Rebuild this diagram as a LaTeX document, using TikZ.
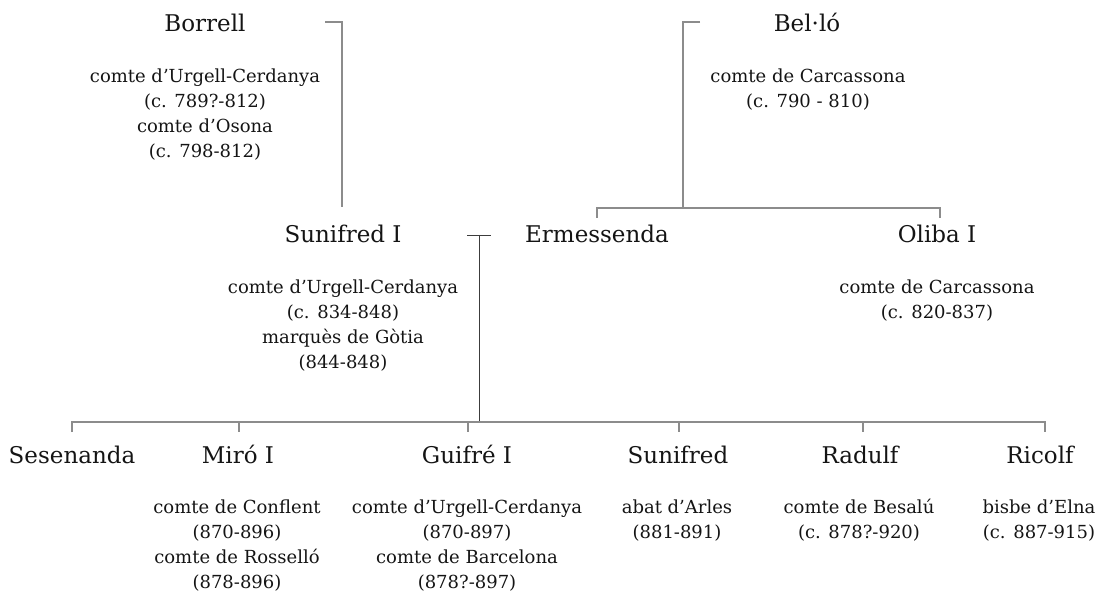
\documentclass[tikz,border=0pt]{standalone}
\usepackage{fontspec}
\setmainfont{DejaVu Serif}
\definecolor{txt}{RGB}{20,20,20}
\definecolor{ln}{RGB}{140,140,140}
\definecolor{lndark}{RGB}{60,60,60}
\begin{document}
\begin{tikzpicture}[x=1pt,y=-1pt,
  person/.style={inner sep=0pt, anchor=base, text=txt, font=\fontsize{23}{28}\selectfont},
  detail/.style={inner sep=0pt, anchor=north, align=center, text=txt, font=\fontsize{18}{25}\selectfont},
  link/.style={draw=ln, line width=1.1pt},
  linkdark/.style={draw=lndark, line width=0.9pt}]
\useasboundingbox (0,0) rectangle (1098,596);
% generation 1
\node[person] (borrell) at (205,32) {Borrell};
\node[detail] (borrellD) at (205,64.5) {\strut comte d’Urgell-Cerdanya\\\strut (c. 789?-812)\\\strut comte d’Osona\\\strut (c. 798-812)};
\node[person] (bello) at (807,32) {Bel·ló};
\node[detail] (belloD) at (808,64.5) {\strut comte de Carcassona\\\strut (c. 790 - 810)};
% generation 2
\node[person] (sunifredI) at (343,243) {Sunifred I};
\node[detail] (sunifredID) at (343,275.5) {\strut comte d’Urgell-Cerdanya\\\strut (c. 834-848)\\\strut marquès de Gòtia\\\strut (844-848)};
\node[person] (ermessenda) at (597,243) {Ermessenda};
\node[person] (oliba) at (937,243) {Oliba I};
\node[detail] (olibaD) at (937,275.5) {\strut comte de Carcassona\\\strut (c. 820-837)};
% generation 3
\node[person] (sesenanda) at (72,463) {Sesenanda};
\node[person] (miro) at (238,463) {Miró I};
\node[detail] (miroD) at (237,496) {\strut comte de Conflent\\\strut (870-896)\\\strut comte de Rosselló\\\strut (878-896)};
\node[person] (guifre) at (467,463) {Guifré I};
\node[detail] (guifreD) at (467,496) {\strut comte d’Urgell-Cerdanya\\\strut (870-897)\\\strut comte de Barcelona\\\strut (878?-897)};
\node[person] (sunifred) at (678,463) {Sunifred};
\node[detail] (sunifredD) at (677,496) {\strut abat d’Arles\\\strut (881-891)};
\node[person] (radulf) at (860,463) {Radulf};
\node[detail] (radulfD) at (859,496) {\strut comte de Besalú\\\strut (c. 878?-920)};
\node[person] (ricolf) at (1040,463) {Ricolf};
\node[detail] (ricolfD) at (1039,496) {\strut bisbe d’Elna\\\strut (c. 887-915)};
% coordinates of the connectors
\coordinate (bA) at (325,22);
\coordinate (bB) at (342,22);
\coordinate (bC) at (342,207);
\coordinate (eA) at (700,22);
\coordinate (eB) at (683,22);
\coordinate (eC) at (683,208);
\coordinate (cL) at (597,208);
\coordinate (cR) at (940,208);
\coordinate (cLt) at (597,218);
\coordinate (cRt) at (940,218);
\coordinate (mA) at (467,235);
\coordinate (mB) at (491,235);
\coordinate (mC) at (479,235);
\coordinate (mD) at (479,422);
\coordinate (k1) at (72,422);
\coordinate (k2) at (239,422);
\coordinate (k3) at (468,422);
\coordinate (k4) at (679,422);
\coordinate (k5) at (863,422);
\coordinate (k6) at (1045,422);
\coordinate (t1) at (72,432);
\coordinate (t2) at (239,432);
\coordinate (t3) at (468,432);
\coordinate (t4) at (679,432);
\coordinate (t5) at (863,432);
\coordinate (t6) at (1045,432);
% connectors
\draw[link] (bA) -- (bB) -- (bC);
\draw[link] (eA) -- (eB) -- (eC);
\draw[link] (cLt) -- (cL) -- (cR) -- (cRt);
\draw[linkdark] (mA) -- (mB);
\draw[linkdark] (mC) -- (mD);
\draw[link] (t1) -- (k1) -- (k6) -- (t6);
\draw[link] (k2) -- (t2);
\draw[link] (k3) -- (t3);
\draw[link] (k4) -- (t4);
\draw[link] (k5) -- (t5);
\end{tikzpicture}
\end{document}
